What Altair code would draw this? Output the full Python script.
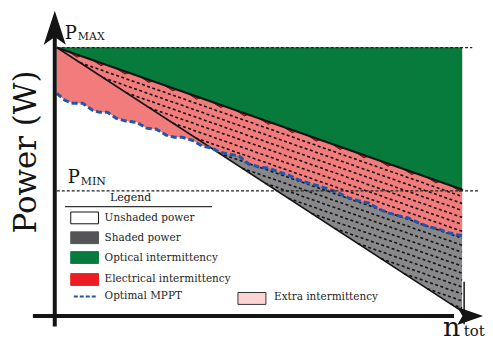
import altair as alt
import pandas as pd

# ---------------- data (n in % of n_tot, power in % of P_MAX) ----------------
P_MAX = 100.0
P_MIN = 46.5
line_n = [0, 100]
unshaded_power = [100, 47]
shaded_power = [100, 1.5]

mppt_n = [0, 2.0, 3.9, 6.4, 8.8, 10.6, 12.5, 14.7, 17.2, 19.7,
          22.1, 24.6, 27.0, 29.0, 31.0, 33.4, 35.9, 38.3, 40.0, 42.5,
          45.0, 47.4, 49.9, 52.3, 54.8, 57.2, 59.7, 62.2, 64.6, 67.1,
          69.5, 72.0, 74.4, 76.9, 79.4, 81.8, 84.3, 86.7, 89.2, 91.6,
          94.1, 96.6, 100]
mppt_p = [82.9, 80.3, 79.2, 79.2, 76.6, 75.8, 75.8, 73.6, 72.5, 72.1,
          69.9, 69.5, 67.3, 66.5, 66.5, 65.4, 63.2, 62.5, 61.0, 60.2,
          59.5, 56.5, 55.4, 55.0, 53.5, 52.4, 50.6, 49.4, 48.3, 47.2,
          45.7, 43.9, 42.8, 42.0, 39.8, 38.3, 37.2, 36.4, 34.6, 33.1,
          32.3, 30.9, 29.7]

sawtooth_n = [4.4, 10.3, 16.2, 22.1, 28.0, 33.9, 39.8, 45.7, 51.6, 57.5,
              63.4, 69.3, 75.2, 81.1, 87.0, 92.9, 98.8]
hatch_offsets = [2.6 * k for k in range(1, 18)]

legend_labels = ["Unshaded power", "Shaded power", "Optical intermittency",
                 "Electrical intermittency"]
legend_fills = ["#ffffff", "#555558", "#077a3e", "#ec1c24"]
legend_rows = [36.4, 29.0, 21.6, 13.4]

# colours
GREEN = "#067b3c"
SALMON = "#f27c7c"
GRAY = "#88888a"
BLUE = "#2356a8"
RED = "#e31b23"
INK = "#141414"
FONT = "DejaVu Serif"

xs = alt.Scale(domain=[-12.04, 105.16], nice=False, zero=False)
ys = alt.Scale(domain=[-7.81, 114.5], nice=False, zero=False)


def X(f="n"):
    return alt.X(f"{f}:Q", scale=xs, axis=None)


def Y(f="p"):
    return alt.Y(f"{f}:Q", scale=ys, axis=None)


su = (unshaded_power[1] - unshaded_power[0]) / (line_n[1] - line_n[0])
ss = (shaded_power[1] - shaded_power[0]) / (line_n[1] - line_n[0])

# ---------------- regions ----------------
gray = alt.Chart(pd.DataFrame({"n": line_n, "p": shaded_power, "top": [P_MAX, P_MAX]})).mark_area(
    color=GRAY, opacity=1).encode(x=X(), y=Y(), y2="top:Q")
salmon = alt.Chart(pd.DataFrame({"n": mppt_n, "p": mppt_p, "top": [P_MAX] * len(mppt_n)})).mark_area(
    color=SALMON, opacity=1).encode(x=X(), y=Y(), y2="top:Q")
green = alt.Chart(pd.DataFrame({"n": line_n, "p": unshaded_power, "top": [P_MAX, P_MAX]})).mark_area(
    color=GREEN, opacity=1).encode(x=X(), y=Y(), y2="top:Q")

# hatch lines parallel to the unshaded line, between unshaded and shaded line
hrows = []
for d in hatch_offsets:
    x0 = d / (su - ss)
    hrows.append({"n": x0, "p": P_MAX - d + su * x0, "n2": line_n[1], "p2": unshaded_power[1] - d})
hatch = alt.Chart(pd.DataFrame(hrows)).mark_rule(
    color=INK, strokeWidth=1.6, strokeDash=[3, 2.5]).encode(
    x=X(), y=Y(), x2="n2:Q", y2="p2:Q")

# red sawtooth slivers under the unshaded line
saw = alt.Chart(pd.DataFrame({"n": sawtooth_n, "p": [P_MAX + su * v for v in sawtooth_n]})).mark_point(
    shape="M-1,0L1,0L0.55,0.4Z", filled=True, fill=RED, stroke=INK, strokeWidth=0.7,
    size=160, angle=19.3, opacity=1).encode(x=X(), y=Y())

unshaded = alt.Chart(pd.DataFrame({"n": line_n, "p": unshaded_power})).mark_line(
    color=INK, strokeWidth=2).encode(x=X(), y=Y())
shaded = alt.Chart(pd.DataFrame({"n": line_n, "p": shaded_power})).mark_line(
    color=INK, strokeWidth=1.6).encode(x=X(), y=Y())
mppt = alt.Chart(pd.DataFrame({"n": mppt_n, "p": mppt_p})).mark_line(
    color=BLUE, strokeWidth=3, strokeDash=[6, 3]).encode(x=X(), y=Y())

levels = alt.Chart(pd.DataFrame({"n": [0, 0], "n2": [102.5, 104.2], "p": [P_MAX, P_MIN]})).mark_rule(
    color="#222222", strokeWidth=1.2, strokeDash=[3, 2]).encode(x=X(), x2="n2:Q", y=Y())

# ---------------- axes ----------------
yaxis = alt.Chart(pd.DataFrame({"n": [-0.5], "p": [-4.1], "p2": [104]})).mark_rule(
    color=INK, strokeWidth=4).encode(x=X(), y=Y(), y2="p2:Q")
xaxis = alt.Chart(pd.DataFrame({"n": [-5.9], "n2": [98], "p": [-0.2]})).mark_rule(
    color=INK, strokeWidth=4).encode(x=X(), x2="n2:Q", y=Y())
tick = alt.Chart(pd.DataFrame({"n": [100.5], "p": [-3.3], "p2": [12.6]})).mark_rule(
    color=INK, strokeWidth=1.5).encode(x=X(), y=Y(), y2="p2:Q")
yarrow = alt.Chart(pd.DataFrame({"n": [-0.5], "p": [107.4]})).mark_point(
    shape="M0,-1L0.65,1L0,0.55L-0.65,1Z", filled=True, color=INK, size=1156, opacity=1).encode(x=X(), y=Y())
xarrow = alt.Chart(pd.DataFrame({"n": [102.0], "p": [-0.2]})).mark_point(
    shape="M0,-1L0.7,1L0,0.6L-0.7,1Z", filled=True, color=INK, size=676, angle=90, opacity=1).encode(x=X(), y=Y())


def txt(n, p, s, size, align="left", baseline="alphabetic", angle=0):
    return alt.Chart(pd.DataFrame({"n": [n], "p": [p], "t": [s]})).mark_text(
        font=FONT, fontSize=size, align=align, baseline=baseline, angle=angle, color=INK).encode(
        x=X(), y=Y(), text="t:N")


texts = [
    txt(-5.2, 61, "Power (W)", 31, align="center", angle=270),
    txt(1.97, 103.3, "P", 18),
    txt(5.2, 103.0, "MAX", 11),
    txt(2.7, 49.4, "P", 18),
    txt(5.9, 48.7, "MIN", 11),
    txt(95.3, -7.6, "n", 27),
    txt(100.4, -7.6, "tot", 15),
    txt(18.2, 42.75, "Legend", 11, align="center"),
]

# ---------------- legend ----------------
leg_line = alt.Chart(pd.DataFrame({"n": [2.0], "n2": [38.3], "p": [40.6]})).mark_rule(
    color="#333333", strokeWidth=1.2).encode(x=X(), x2="n2:Q", y=Y())
leg_df = pd.DataFrame({
    "n": [3.44] * 4 + [44.7], "n2": [10.3] * 4 + [51.6],
    "p": [r + 2.2 for r in legend_rows] + [8.55],
    "p2": [r - 2.2 for r in legend_rows] + [4.1],
    "fill": legend_fills + ["#fcd4d4"],
    "stroke": ["#111111", "#555558", "#077a3e", "#ec1c24", "#333333"],
})
leg_rects = alt.Chart(leg_df).mark_rect(strokeWidth=1).encode(
    x=X(), x2="n2:Q", y=Y(), y2="p2:Q",
    fill=alt.Fill("fill:N", scale=None), stroke=alt.Stroke("stroke:N", scale=None))
leg_mppt = alt.Chart(pd.DataFrame({"n": [4.2], "n2": [9.6], "p": [7.1]})).mark_rule(
    color=BLUE, strokeWidth=2, strokeDash=[4, 2]).encode(x=X(), x2="n2:Q", y=Y())
leg_text = alt.Chart(pd.DataFrame({
    "n": [11.8] * 5 + [53.6],
    "p": legend_rows + [7.1, 6.7],
    "t": legend_labels + ["Optimal MPPT", "Extra intermittency"],
})).mark_text(font=FONT, fontSize=10.5, align="left", baseline="middle", color="#1e1e1e").encode(
    x=X(), y=Y(), text="t:N")

chart = alt.layer(
    gray, salmon, green, hatch, saw, unshaded, shaded, mppt, levels,
    yaxis, xaxis, tick, yarrow, xarrow, *texts,
    leg_line, leg_rects, leg_mppt, leg_text,
).properties(width=477, height=329, padding=0).configure_view(stroke=None)

chart.save("out.html", embed_options={"renderer": "svg", "actions": False})
